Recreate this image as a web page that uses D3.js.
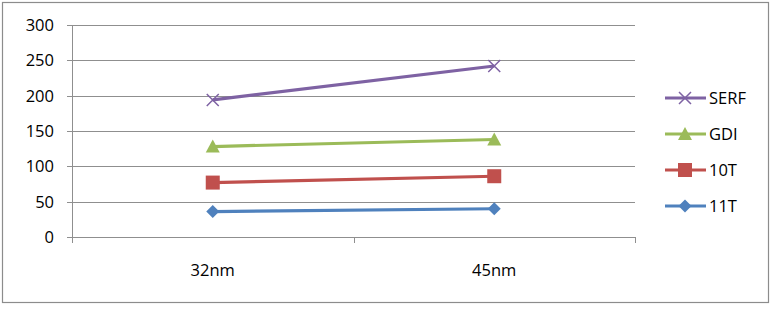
<!DOCTYPE html>
<html><head><meta charset="utf-8">
<script src="https://cdn.jsdelivr.net/npm/d3@7"></script>
<style>body{margin:0;background:#fff}svg{display:block}</style>
</head><body>
<script>
const categories = ["32nm", "45nm"];
const serf = [194, 242];
const gdi = [128, 138];
const t10 = [77, 86];
const t11 = [36, 40];
const yTicks = [0, 50, 100, 150, 200, 250, 300];
const seriesNames = ["SERF", "GDI", "10T", "11T"];

(function () {
const series = [
  {name: "SERF", values: serf, color: "#7E62A3", marker: "x"},
  {name: "GDI", values: gdi, color: "#9BBB59", marker: "tri"},
  {name: "10T", values: t10, color: "#C0504D", marker: "sq"},
  {name: "11T", values: t11, color: "#4F81BD", marker: "dia"}
];

const W = 773, H = 322;
const svg = d3.select("body").append("svg").attr("width", W).attr("height", H);
const font = "'Open Sans', 'Noto Sans', sans-serif";

svg.append("rect").attr("x", 2.5).attr("y", 2.5).attr("width", 766).attr("height", 300)
  .attr("fill", "#fff").attr("stroke", "#8c8c8c").attr("stroke-width", 1.2);

const pL = 72, pR = 635, pT = 25, pB = 237;
const x = d3.scaleBand().domain(categories).range([pL, pR]);
const y = d3.scaleLinear().domain([0, 300]).range([pB, pT]);

const g = svg.append("g");
g.selectAll(".grid").data(yTicks).join("line")
  .attr("x1", pL - 5).attr("x2", pR)
  .attr("y1", d => Math.round(y(d)) + 0.5).attr("y2", d => Math.round(y(d)) + 0.5)
  .attr("stroke", "#8f8f8f").attr("stroke-width", 1);
g.append("line").attr("x1", pL + 0.5).attr("x2", pL + 0.5).attr("y1", pT).attr("y2", pB + 6)
  .attr("stroke", "#8f8f8f");
const xt = [pL, x(categories[1]), pR];
g.selectAll(".xt").data(xt).join("line")
  .attr("x1", d => Math.round(d) + 0.5).attr("x2", d => Math.round(d) + 0.5)
  .attr("y1", pB).attr("y2", pB + 6).attr("stroke", "#8f8f8f");

g.selectAll(".yl").data(yTicks).join("text")
  .attr("x", 54).attr("y", d => y(d) + 6).attr("text-anchor", "end")
  .attr("font-family", font).attr("font-size", 16.5).attr("fill", "#000").text(d => d);

g.selectAll(".xl").data(categories).join("text")
  .attr("x", d => x(d) + x.bandwidth() / 2).attr("y", 276).attr("text-anchor", "middle")
  .attr("font-family", font).attr("font-size", 16.5).attr("fill", "#000").text(d => d);

function drawMarker(sel, type, color) {
  if (type === "x") {
    sel.append("path").attr("d", "M-6,-6L6,6M-6,6L6,-6").attr("stroke", color).attr("stroke-width", 1.5).attr("fill", "none");
  } else if (type === "tri") {
    sel.append("path").attr("d", "M0,-7L7,6L-7,6Z").attr("fill", color);
  } else if (type === "sq") {
    sel.append("rect").attr("x", -7).attr("y", -7).attr("width", 14).attr("height", 14).attr("fill", color);
  } else {
    sel.append("path").attr("d", "M0,-6.5L6.5,0L0,6.5L-6.5,0Z").attr("fill", color);
  }
}

const line = d3.line().x((d, i) => x(categories[i]) + x.bandwidth() / 2).y(d => y(d));
series.forEach(s => {
  g.append("path").attr("d", line(s.values)).attr("fill", "none")
    .attr("stroke", s.color).attr("stroke-width", 3.2);
  s.values.forEach((v, i) => {
    const m = g.append("g").attr("transform", `translate(${x(categories[i]) + x.bandwidth() / 2},${y(v)})`);
    drawMarker(m, s.marker, s.color);
  });
});

const legY = [98, 134, 170, 206];
series.forEach((s, i) => {
  const lg = svg.append("g").attr("transform", `translate(0,${legY[i]})`);
  lg.append("line").attr("x1", 665).attr("x2", 706).attr("y1", 0).attr("y2", 0)
    .attr("stroke", s.color).attr("stroke-width", 3.2);
  const m = lg.append("g").attr("transform", "translate(685,0)");
  drawMarker(m, s.marker, s.color);
  lg.append("text").attr("x", 709).attr("y", 6).attr("font-family", font)
    .attr("font-size", 16.5).attr("fill", "#000").text(seriesNames[i]);
});
})();
</script>
</body></html>
